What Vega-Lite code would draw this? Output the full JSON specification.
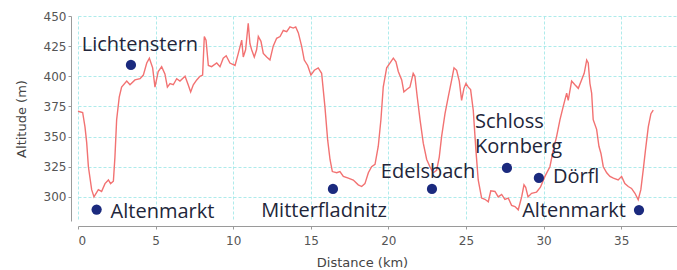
{
  "$schema": "https://vega.github.io/schema/vega-lite/v6.json",
  "width": 599,
  "height": 205,
  "autosize": "none",
  "padding": {"left": 78, "top": 16, "right": 0, "bottom": 49},
  "background": "white",
  "config": {
    "view": {"stroke": null},
    "axis": {
      "gridColor": "#9ae6e6",
      "gridDash": [3, 2],
      "gridOpacity": 0.8,
      "domainColor": "#9a9a9a",
      "tickColor": "#9a9a9a",
      "tickSize": 3,
      "labelFont": "DejaVu Sans",
      "labelFontSize": 12,
      "labelColor": "#555555",
      "titleFont": "DejaVu Sans",
      "titleFontSize": 13,
      "titleFontWeight": "normal",
      "titleColor": "#444444"
    }
  },
  "datasets": {
    "profile": [
      {"km": 0, "alt": 371}, {"km": 0.3, "alt": 370}, {"km": 0.45, "alt": 358}, {"km": 0.56, "alt": 345},
      {"km": 0.67, "alt": 325}, {"km": 0.88, "alt": 306}, {"km": 1.03, "alt": 300}, {"km": 1.31, "alt": 306},
      {"km": 1.52, "alt": 304.5}, {"km": 1.74, "alt": 311}, {"km": 1.96, "alt": 314}, {"km": 2.1, "alt": 311},
      {"km": 2.28, "alt": 313}, {"km": 2.38, "alt": 333}, {"km": 2.49, "alt": 364}, {"km": 2.66, "alt": 383},
      {"km": 2.81, "alt": 391}, {"km": 3.14, "alt": 396}, {"km": 3.35, "alt": 393}, {"km": 3.67, "alt": 397},
      {"km": 4.0, "alt": 398}, {"km": 4.21, "alt": 401}, {"km": 4.43, "alt": 411}, {"km": 4.6, "alt": 415},
      {"km": 4.81, "alt": 407}, {"km": 4.96, "alt": 391}, {"km": 5.17, "alt": 404}, {"km": 5.39, "alt": 408},
      {"km": 5.6, "alt": 402}, {"km": 5.76, "alt": 391}, {"km": 5.93, "alt": 394}, {"km": 6.14, "alt": 393},
      {"km": 6.36, "alt": 398}, {"km": 6.57, "alt": 396}, {"km": 6.9, "alt": 400}, {"km": 7.1, "alt": 393},
      {"km": 7.26, "alt": 387}, {"km": 7.43, "alt": 393}, {"km": 7.65, "alt": 397}, {"km": 7.86, "alt": 400},
      {"km": 8.03, "alt": 401}, {"km": 8.14, "alt": 433}, {"km": 8.25, "alt": 430}, {"km": 8.4, "alt": 409},
      {"km": 8.61, "alt": 408}, {"km": 8.94, "alt": 411}, {"km": 9.15, "alt": 408}, {"km": 9.36, "alt": 415},
      {"km": 9.55, "alt": 417}, {"km": 9.79, "alt": 411}, {"km": 10.12, "alt": 409}, {"km": 10.33, "alt": 419},
      {"km": 10.55, "alt": 430}, {"km": 10.65, "alt": 416}, {"km": 10.8, "alt": 422}, {"km": 10.97, "alt": 444},
      {"km": 11.08, "alt": 427}, {"km": 11.19, "alt": 422}, {"km": 11.36, "alt": 416}, {"km": 11.51, "alt": 422},
      {"km": 11.62, "alt": 433}, {"km": 11.79, "alt": 429}, {"km": 11.94, "alt": 419}, {"km": 12.16, "alt": 416},
      {"km": 12.37, "alt": 413.5}, {"km": 12.58, "alt": 425}, {"km": 12.8, "alt": 431.5}, {"km": 13.02, "alt": 433},
      {"km": 13.23, "alt": 438}, {"km": 13.45, "alt": 437}, {"km": 13.66, "alt": 441}, {"km": 13.87, "alt": 440},
      {"km": 14.03, "alt": 441}, {"km": 14.2, "alt": 436}, {"km": 14.41, "alt": 425}, {"km": 14.58, "alt": 413.5},
      {"km": 14.8, "alt": 409}, {"km": 15.01, "alt": 401}, {"km": 15.23, "alt": 405}, {"km": 15.48, "alt": 407},
      {"km": 15.7, "alt": 402.5}, {"km": 15.91, "alt": 375}, {"km": 16.09, "alt": 347}, {"km": 16.24, "alt": 331},
      {"km": 16.39, "alt": 321}, {"km": 16.67, "alt": 320}, {"km": 16.88, "alt": 321}, {"km": 17.1, "alt": 317},
      {"km": 17.42, "alt": 315.5}, {"km": 17.74, "alt": 314}, {"km": 18.06, "alt": 310}, {"km": 18.28, "alt": 308.6},
      {"km": 18.49, "alt": 311}, {"km": 18.71, "alt": 320}, {"km": 18.92, "alt": 325}, {"km": 19.14, "alt": 327},
      {"km": 19.35, "alt": 342}, {"km": 19.52, "alt": 364}, {"km": 19.67, "alt": 391}, {"km": 19.89, "alt": 407},
      {"km": 20.1, "alt": 411}, {"km": 20.32, "alt": 415}, {"km": 20.49, "alt": 412}, {"km": 20.64, "alt": 404},
      {"km": 20.86, "alt": 397}, {"km": 21.0, "alt": 387}, {"km": 21.18, "alt": 389}, {"km": 21.39, "alt": 391},
      {"km": 21.6, "alt": 402.5}, {"km": 21.71, "alt": 400}, {"km": 21.86, "alt": 383}, {"km": 22.04, "alt": 364},
      {"km": 22.25, "alt": 344.5}, {"km": 22.47, "alt": 331}, {"km": 22.68, "alt": 325}, {"km": 22.89, "alt": 320},
      {"km": 23.11, "alt": 322}, {"km": 23.28, "alt": 333}, {"km": 23.43, "alt": 350}, {"km": 23.65, "alt": 369},
      {"km": 23.86, "alt": 383}, {"km": 24.08, "alt": 397}, {"km": 24.23, "alt": 407}, {"km": 24.4, "alt": 405},
      {"km": 24.57, "alt": 396}, {"km": 24.72, "alt": 380}, {"km": 24.87, "alt": 390}, {"km": 25.0, "alt": 394},
      {"km": 25.15, "alt": 391}, {"km": 25.3, "alt": 389}, {"km": 25.47, "alt": 372}, {"km": 25.64, "alt": 339},
      {"km": 25.79, "alt": 314}, {"km": 26.01, "alt": 299}, {"km": 26.22, "alt": 298}, {"km": 26.44, "alt": 296},
      {"km": 26.6, "alt": 305}, {"km": 26.87, "alt": 304.5}, {"km": 27.08, "alt": 300}, {"km": 27.3, "alt": 302},
      {"km": 27.51, "alt": 298}, {"km": 27.73, "alt": 299}, {"km": 27.94, "alt": 293}, {"km": 28.16, "alt": 292},
      {"km": 28.37, "alt": 289.3}, {"km": 28.59, "alt": 300}, {"km": 28.74, "alt": 310}, {"km": 28.85, "alt": 308},
      {"km": 29.0, "alt": 300}, {"km": 29.23, "alt": 303}, {"km": 29.55, "alt": 304}, {"km": 29.8, "alt": 308},
      {"km": 30.09, "alt": 317}, {"km": 30.41, "alt": 325}, {"km": 30.63, "alt": 339}, {"km": 30.84, "alt": 350},
      {"km": 31.06, "alt": 364}, {"km": 31.27, "alt": 375}, {"km": 31.49, "alt": 386}, {"km": 31.59, "alt": 380},
      {"km": 31.81, "alt": 396}, {"km": 32.02, "alt": 393}, {"km": 32.24, "alt": 390}, {"km": 32.45, "alt": 397},
      {"km": 32.62, "alt": 402.5}, {"km": 32.78, "alt": 413.5}, {"km": 32.88, "alt": 411}, {"km": 32.99, "alt": 394},
      {"km": 33.1, "alt": 386}, {"km": 33.2, "alt": 364}, {"km": 33.42, "alt": 356}, {"km": 33.57, "alt": 342},
      {"km": 33.7, "alt": 336}, {"km": 33.85, "alt": 325}, {"km": 34.07, "alt": 320}, {"km": 34.28, "alt": 317},
      {"km": 34.5, "alt": 315.5}, {"km": 34.81, "alt": 314}, {"km": 35.03, "alt": 317}, {"km": 35.24, "alt": 311},
      {"km": 35.46, "alt": 308.6}, {"km": 35.67, "alt": 307}, {"km": 35.89, "alt": 303}, {"km": 36.1, "alt": 297.6},
      {"km": 36.27, "alt": 306}, {"km": 36.42, "alt": 322}, {"km": 36.57, "alt": 339}, {"km": 36.75, "alt": 358},
      {"km": 36.92, "alt": 369}, {"km": 37.07, "alt": 372}
    ],
    "places": [
      {"id": "a", "name": "Altenmarkt", "km": 1.2, "alt": 289.5},
      {"id": "b", "name": "Lichtenstern", "km": 3.41, "alt": 409.4},
      {"id": "c", "name": "Mitterfladnitz", "km": 16.43, "alt": 306.6},
      {"id": "d", "name": "Edelsbach", "km": 22.81, "alt": 306.6},
      {"id": "e", "name": ["Schloss", "Kornberg"], "km": 27.64, "alt": 324},
      {"id": "f", "name": "Dörfl", "km": 29.7, "alt": 315.7},
      {"id": "g", "name": "Altenmarkt", "km": 36.15, "alt": 289.1}
    ]
  },
  "encoding": {
    "x": {
      "field": "km", "type": "quantitative",
      "scale": {"domain": [0, 38.6], "nice": false, "zero": false},
      "axis": {"title": "Distance (km)", "values": [0, 5, 10, 15, 20, 25, 30, 35], "offset": 5, "labelPadding": 6, "titlePadding": 10, "titleX": 284}
    },
    "y": {
      "field": "alt", "type": "quantitative",
      "scale": {"domain": [280, 450], "nice": false, "zero": false},
      "axis": {"title": "Altitude (m)", "values": [300, 325, 350, 375, 400, 425, 450], "offset": 7, "labelPadding": 2, "titlePadding": 15}
    }
  },
  "layer": [
    {"data": {"name": "profile"}, "mark": {"type": "line", "color": "#f27272", "strokeWidth": 1.4}},
    {"data": {"name": "places"}, "mark": {"type": "circle", "color": "#1b2a7e", "opacity": 1, "size": 105}},
    {"data": {"name": "places"}, "transform": [{"filter": "datum.id === 'a'"}],
     "mark": {"type": "text", "font": "Open Sans", "fontSize": 20, "color": "#22263a", "align": "left", "baseline": "middle", "dx": 14, "dy": 2},
     "encoding": {"text": {"field": "name"}}},
    {"data": {"name": "places"}, "transform": [{"filter": "datum.id === 'b'"}],
     "mark": {"type": "text", "font": "Open Sans", "fontSize": 20, "color": "#22263a", "align": "center", "baseline": "middle", "dx": 9, "dy": -20},
     "encoding": {"text": {"field": "name"}}},
    {"data": {"name": "places"}, "transform": [{"filter": "datum.id === 'c'"}],
     "mark": {"type": "text", "font": "Open Sans", "fontSize": 20, "color": "#22263a", "align": "center", "baseline": "middle", "dx": -9, "dy": 22},
     "encoding": {"text": {"field": "name"}}},
    {"data": {"name": "places"}, "transform": [{"filter": "datum.id === 'd'"}],
     "mark": {"type": "text", "font": "Open Sans", "fontSize": 20, "color": "#22263a", "align": "center", "baseline": "middle", "dx": -4, "dy": -17},
     "encoding": {"text": {"field": "name"}}},
    {"data": {"name": "places"}, "transform": [{"filter": "datum.id === 'e'"}],
     "mark": {"type": "text", "font": "Open Sans", "fontSize": 20, "color": "#22263a", "align": "left", "baseline": "middle", "dx": -32, "dy": -46, "lineHeight": 25},
     "encoding": {"text": {"field": "name"}}},
    {"data": {"name": "places"}, "transform": [{"filter": "datum.id === 'f'"}],
     "mark": {"type": "text", "font": "Open Sans", "fontSize": 20, "color": "#22263a", "align": "left", "baseline": "middle", "dx": 14, "dy": -1},
     "encoding": {"text": {"field": "name"}}},
    {"data": {"name": "places"}, "transform": [{"filter": "datum.id === 'g'"}],
     "mark": {"type": "text", "font": "Open Sans", "fontSize": 20, "color": "#22263a", "align": "right", "baseline": "middle", "dx": -13, "dy": 1},
     "encoding": {"text": {"field": "name"}}}
  ]
}
